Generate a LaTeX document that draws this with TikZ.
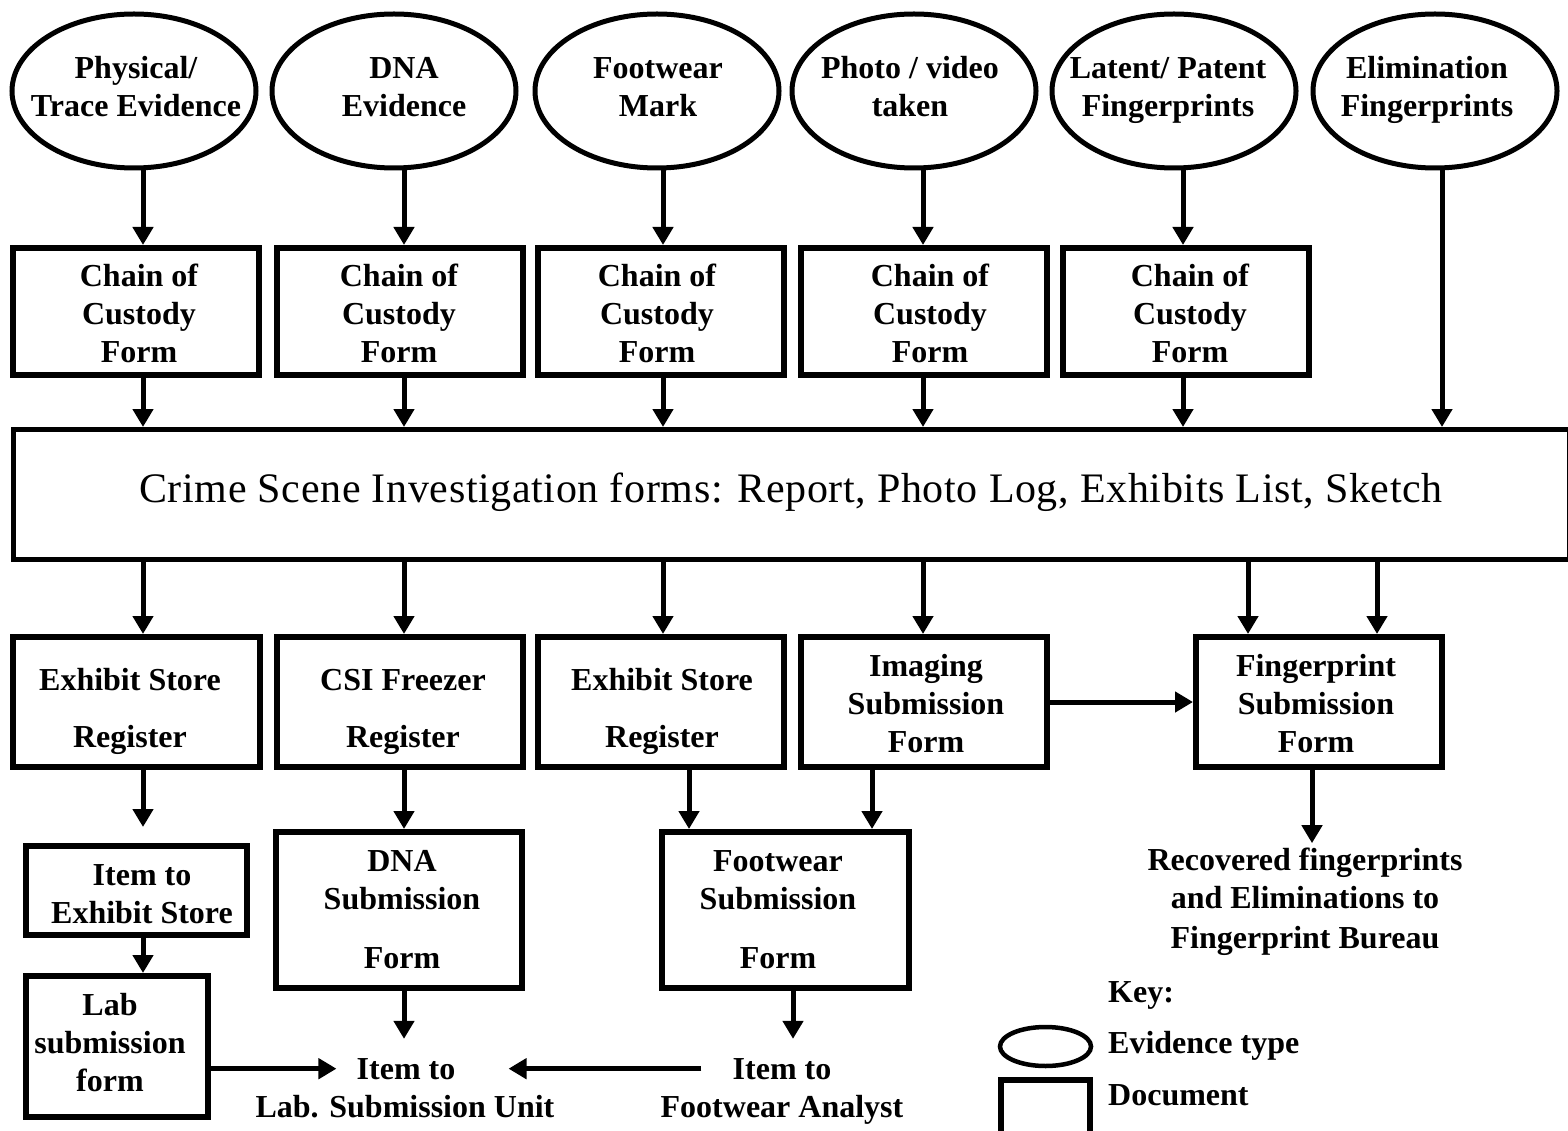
\documentclass[tikz,border=0pt]{standalone}
\usepackage{fontspec}
\setmainfont{Liberation Serif}
\usetikzlibrary{shapes.geometric,arrows.meta}
\begin{document}
\begin{tikzpicture}[x=1pt,y=-1pt,
  ev/.style={ellipse,draw,line width=5pt,minimum width=244pt,minimum height=154pt,inner sep=0pt},
  doc/.style={rectangle,draw,line width=6pt,inner sep=0pt},
  lbl/.style={font=\fontsize{32}{38}\selectfont\bfseries,align=center,inner sep=0pt},
  arr/.style={line width=5pt,-{Triangle[width=20pt,length=18pt]}}
]
\path[fill=white,use as bounding box] (0,0) rectangle (1568,1131);

% column coordinates for connectors
\coordinate (v1) at (143,0);
\coordinate (v2) at (404,0);
\coordinate (v3) at (663,0);
\coordinate (v4) at (923,0);
\coordinate (v5) at (1183,0);
\coordinate (v6) at (1442,0);
\coordinate (w5) at (1248,0);
\coordinate (w6) at (1377,0);
\coordinate (u3) at (689,0);
\coordinate (u4) at (872,0);
\coordinate (u5) at (1312,0);
\coordinate (u6) at (793,0);

% evidence ellipses
\node[ev] (E1) at (134,91) {};
\node[ev] (E2) at (394,91) {};
\node[ev] (E3) at (657,91) {};
\node[ev] (E4) at (914,91) {};
\node[ev] (E5) at (1174,91) {};
\node[ev] (E6) at (1435,91) {};
\node[lbl] (E1t) at (136,89.9) {\strut Physical/\\Trace Evidence\strut};
\node[lbl] (E2t) at (404,89.9) {\strut DNA\\Evidence\strut};
\node[lbl] (E3t) at (658,89.9) {\strut Footwear\\Mark\strut};
\node[lbl] (E4t) at (910,89.9) {\strut Photo / video\\taken\strut};
\node[lbl] (E5t) at (1168,89.9) {\strut Latent/ Patent\\Fingerprints\strut};
\node[lbl] (E6t) at (1427,89.9) {\strut Elimination\\Fingerprints\strut};

% chain of custody boxes
\node[doc,minimum width=246pt,minimum height=127pt] (C1) at (136,311.5) {};
\node[doc,minimum width=246pt,minimum height=127pt] (C2) at (399.5,311.5) {};
\node[doc,minimum width=246pt,minimum height=127pt] (C3) at (661,311.5) {};
\node[doc,minimum width=246pt,minimum height=127pt] (C4) at (923.5,311.5) {};
\node[doc,minimum width=246pt,minimum height=127pt] (C5) at (1186,311.5) {};
\node[lbl] (C1t) at (139,316.9) {\strut Chain of\\Custody\\Form\strut};
\node[lbl] (C2t) at (399,316.9) {\strut Chain of\\Custody\\Form\strut};
\node[lbl] (C3t) at (657,316.9) {\strut Chain of\\Custody\\Form\strut};
\node[lbl] (C4t) at (930,316.9) {\strut Chain of\\Custody\\Form\strut};
\node[lbl] (C5t) at (1190,316.9) {\strut Chain of\\Custody\\Form\strut};

% big CSI forms box
\node[rectangle,draw,line width=5pt,minimum width=1556pt,minimum height=130pt,inner sep=0pt] (big) at (791,494.5) {};
\node[font=\fontsize{42}{50}\selectfont\addfontfeatures{LetterSpace=1.5},inner sep=0pt,anchor=base] (bigt) at (791,502) {Crime Scene Investigation forms: Report, Photo Log, Exhibits List, Sketch};

% third row
\node[doc,minimum width=247pt,minimum height=130pt] (A) at (136.5,702) {};
\node[doc,minimum width=246pt,minimum height=130pt] (B) at (399.5,702) {};
\node[doc,minimum width=246pt,minimum height=130pt] (Cc) at (661,702) {};
\node[doc,minimum width=246pt,minimum height=130pt] (D) at (924,702) {};
\node[doc,minimum width=246pt,minimum height=130pt] (F) at (1319,702) {};
\node[lbl] (At) at (130,710.9) {\strut Exhibit Store\\[19pt]Register\strut};
\node[lbl] (Bt) at (403,710.9) {\strut CSI Freezer\\[19pt]Register\strut};
\node[lbl] (Cct) at (662,710.9) {\strut Exhibit Store\\[19pt]Register\strut};
\node[lbl] (Dt) at (926,706.9) {\strut Imaging\\Submission\\Form\strut};
\node[lbl] (Ft) at (1316,706.9) {\strut Fingerprint\\Submission\\Form\strut};

% lower boxes
\node[doc,minimum width=221pt,minimum height=89pt] (ES) at (136.5,890.5) {};
\node[lbl] (ESt) at (142,896.4) {\strut Item to\\Exhibit Store\strut};
\node[doc,minimum width=182pt,minimum height=141pt] (Lab) at (117,1046.5) {};
\node[lbl] (Labt) at (110,1045.9) {\strut Lab\\submission\\form\strut};
\node[doc,minimum width=246pt,minimum height=156pt] (DS) at (399,910) {};
\node[lbl] (DSt) at (402,912.4) {\strut DNA\\Submission\\[21pt]Form\strut};
\node[doc,minimum width=247pt,minimum height=156pt] (FS) at (785.5,910) {};
\node[lbl] (FSt) at (778,912.4) {\strut Footwear\\Submission\\[21pt]Form\strut};

% end texts
\node[lbl,anchor=base] (IL1) at (406,1079) {Item to};
\node[lbl,anchor=base] (IL2) at (405,1117) {Lab. Submission Unit};
\node[lbl,anchor=base] (IF1) at (782,1079) {Item to};
\node[lbl,anchor=base] (IF2) at (782,1117) {Footwear Analyst};
\node[lbl] (Rec) at (1305,901.4) {\strut Recovered fingerprints\\and Eliminations to\\[2pt]Fingerprint Bureau\strut};

% key
\node[lbl,anchor=base west] (key) at (1108,1002) {Key:};
\node[lbl,anchor=base west] (k1) at (1108,1053) {Evidence type};
\node[lbl,anchor=base west] (k2) at (1108,1105) {Document};
\node[ellipse,draw,line width=4.5pt,minimum width=91pt,minimum height=39pt,inner sep=0pt] (kE) at (1045.5,1046.5) {};
\node[doc,minimum width=89pt,minimum height=56pt] (kR) at (1045.5,1108) {};

% connectors: ellipses to chain boxes
\draw[arr] (E1.south -| v1) -- (C1.north -| v1);
\draw[arr] (E2.south -| v2) -- (C2.north -| v2);
\draw[arr] (E3.south -| v3) -- (C3.north -| v3);
\draw[arr] (E4.south -| v4) -- (C4.north -| v4);
\draw[arr] (E5.south -| v5) -- (C5.north -| v5);
% chain boxes to big box
\draw[arr] (C1.south -| v1) -- (big.north -| v1);
\draw[arr] (C2.south -| v2) -- (big.north -| v2);
\draw[arr] (C3.south -| v3) -- (big.north -| v3);
\draw[arr] (C4.south -| v4) -- (big.north -| v4);
\draw[arr] (C5.south -| v5) -- (big.north -| v5);
\draw[arr] (E6.south -| v6) -- (big.north -| v6);
% big box to third row
\draw[arr] (big.south -| v1) -- (A.north -| v1);
\draw[arr] (big.south -| v2) -- (B.north -| v2);
\draw[arr] (big.south -| v3) -- (Cc.north -| v3);
\draw[arr] (big.south -| v4) -- (D.north -| v4);
\draw[arr] (big.south -| w5) -- (F.north -| w5);
\draw[arr] (big.south -| w6) -- (F.north -| w6);
% third row onwards
\draw[arr] (D.east) -- (F.west);
\draw[arr,shorten >=16pt] (A.south -| v1) -- (ES.north -| v1);
\draw[arr] (ES.south -| v1) -- (Lab.north -| v1);
\draw[arr] (B.south -| v2) -- (DS.north -| v2);
\draw[arr] (Cc.south -| u3) -- (FS.north -| u3);
\draw[arr] (D.south -| u4) -- (FS.north -| u4);
\draw[arr,shorten >=19pt] (DS.south -| v2) -- (IL1.north -| v2);
\draw[arr,shorten >=19pt] (FS.south -| u6) -- (IF1.north -| u6);
\draw[arr] (F.south -| u5) -- (Rec.north -| u5);
\draw[arr,shorten >=20pt] (Lab.east |- IL1.west) -- (IL1.west);
\draw[arr,shorten <=31pt,shorten >=53pt] (IF1.west) -- (IL1.east);
\end{tikzpicture}
\end{document}
